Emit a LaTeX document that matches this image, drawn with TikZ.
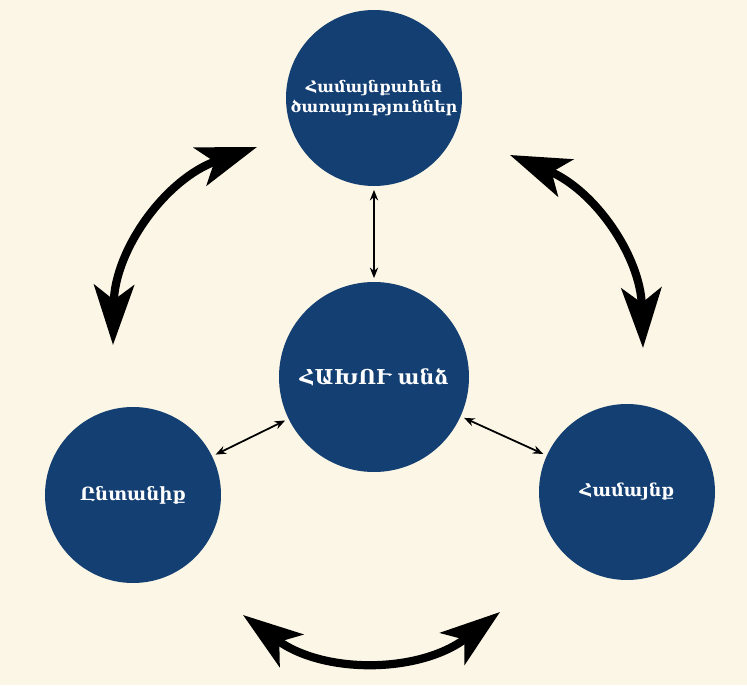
\documentclass[tikz,border=0pt]{standalone}
\usepackage{fontspec}
\setmainfont{DejaVu Serif}
\usetikzlibrary{arrows.meta,positioning}

\definecolor{parchment}{RGB}{251,246,229}
\definecolor{navyblue}{RGB}{20,63,115}

\tikzset{
  hub/.style={circle, fill=navyblue, text=white, align=center, inner sep=0pt, font=\bfseries},
  bigarrow/.style={line width=7pt,
    {Stealth[length=1.8cm, width=1.2cm, inset=0.45cm]}-{Stealth[length=1.8cm, width=1.2cm, inset=0.45cm]}},
  thinlink/.style={{Stealth[length=9pt, width=7pt]}-{Stealth[length=9pt, width=7pt]}, line width=1.5pt, shorten <=3pt, shorten >=3pt}
}

\begin{document}
\begin{tikzpicture}[node distance=8.37cm, on grid, semithick, auto]
    \fill[parchment] (-11.22,-9.24) rectangle (11.19,11.31);

    \node[hub, minimum size=5.7cm,  font=\bfseries\fontsize{17.5}{20}\selectfont] (person)                                          {ՀԱԽՈՒ անձ};
    \node[hub, minimum size=5.28cm, font=\bfseries\fontsize{13.5}{17}\selectfont] (services)  [above=of person]                       {Համայնքահեն\\ծառայություններ};
    \node[hub, minimum size=5.28cm, font=\bfseries\fontsize{15.5}{17}\selectfont] (family)    [below left=3.54cm and 7.23cm of person]  {Ընտանիք};
    \node[hub, minimum size=5.28cm, font=\bfseries\fontsize{15}{17}\selectfont]   (community) [below right=3.45cm and 7.59cm of person] {Համայնք};

    % free ends of the big arrows
    \coordinate (lefttop)  at (-3.51, 6.90);
    \coordinate (leftbot)  at (-7.83, 0.96);
    \coordinate (righttop) at ( 4.08, 6.66);
    \coordinate (rightbot) at ( 8.07, 0.87);
    \coordinate (botleft)  at (-3.93,-7.14);
    \coordinate (botright) at ( 3.78,-7.05);

    \path[thinlink]  (person)  edge  (services)
                               edge  (family)
                               edge  (community);

    \draw[bigarrow]  (lefttop)  to [bend right=35] (leftbot);
    \draw[bigarrow]  (righttop) to [bend left=33]  (rightbot);
    \draw[bigarrow]  (botleft)  to [bend right=37] (botright);
\end{tikzpicture}
\end{document}
